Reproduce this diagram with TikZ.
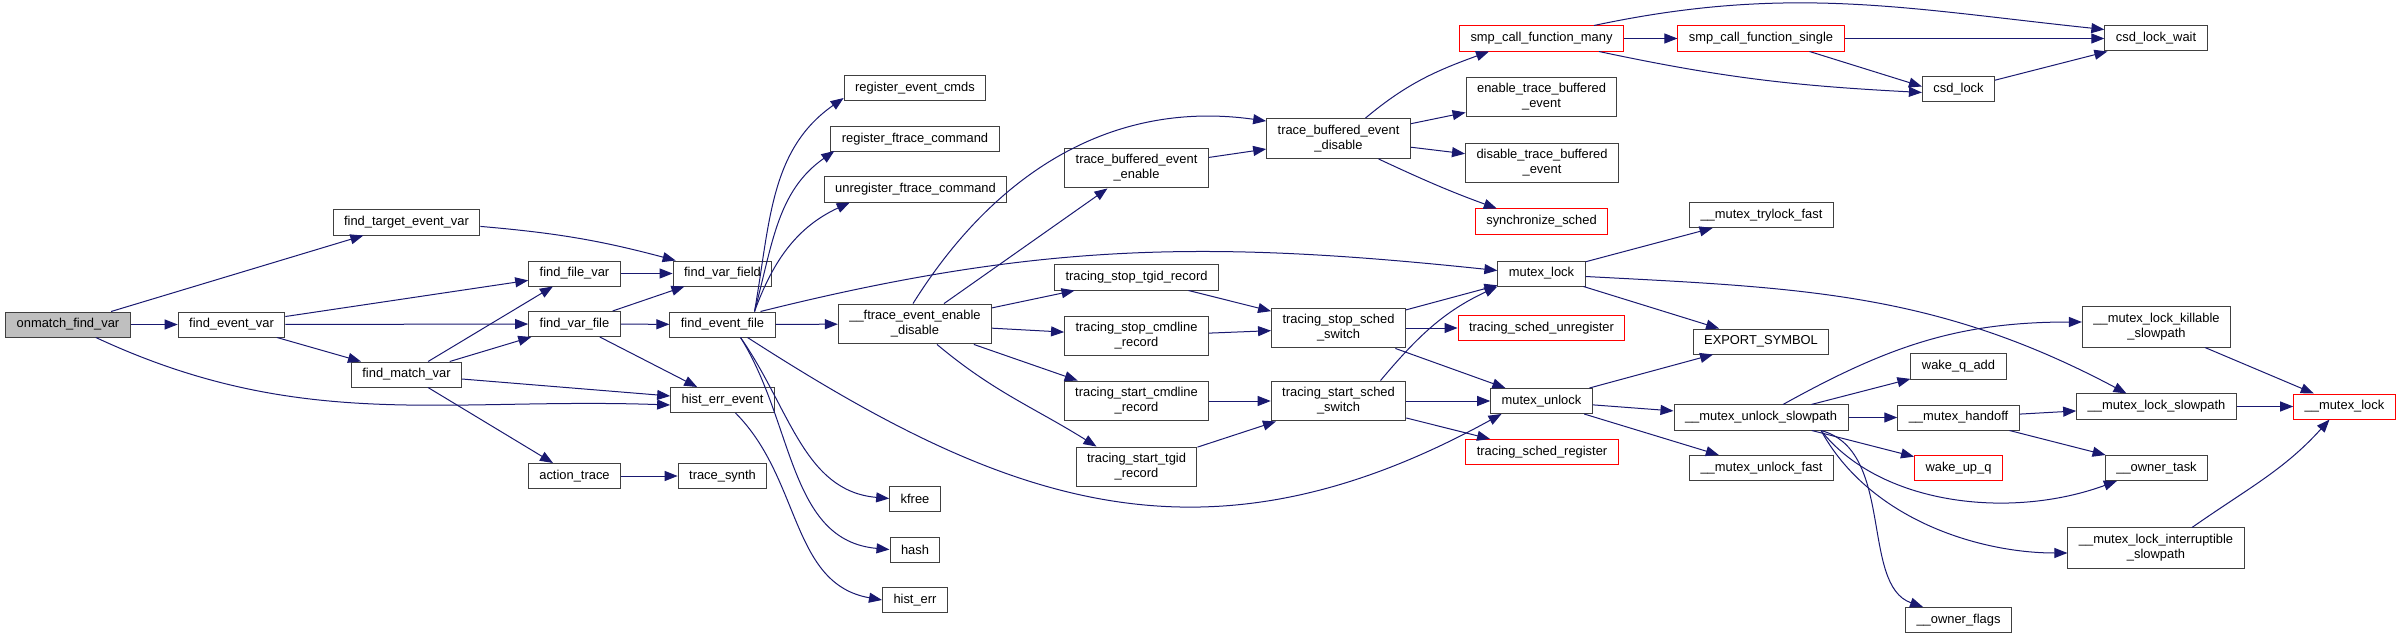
\documentclass[tikz,border=0pt]{standalone}
\usepackage{fontspec}
\setmainfont{Liberation Sans}
\usepackage{tikz}
\usetikzlibrary{arrows.meta,positioning,calc}
\definecolor{edgeblue}{HTML}{191970}
\definecolor{boxline}{HTML}{404040}
\definecolor{rootgray}{HTML}{BFBFBF}

\begin{document}
\begin{tikzpicture}[
    x=1pt, y=1pt,
    fn/.style={draw=boxline, line width=1pt, fill=white, align=center, inner xsep=11pt, inner ysep=6.5pt, minimum height=25pt, font=\fontsize{12.9}{15}\selectfont},
    fnred/.style={fn, draw=red},
    root/.style={fn, fill=rootgray},
    link/.style={draw=edgeblue, line width=1pt},
    >={Triangle[length=13pt,width=10pt]}
]
  \useasboundingbox (0,0) rectangle (2401,-639);

  \node[root] (onmatch) at (68,-324.5) {onmatch\_find\_var};
  \node[fn] (findevvar) at (231.5,-324.5) {find\_event\_var};
  \node[fn] (findtarget) at (406.5,-222.5) {find\_target\_event\_var};
  \node[fn] (findmatch) at (406.5,-374.5) {find\_match\_var};
  \node[fn] (findfile) at (574.5,-273.5) {find\_file\_var};
  \node[fn] (findvarfile) at (574.5,-324) {find\_var\_file};
  \node[fn] (actiontrace) at (574.5,-476) {action\_trace};
  \node[fn] (varfield) at (722.5,-273.5) {find\_var\_field};
  \node[fn] (evfile) at (722.5,-324.5) {find\_event\_file};
  \node[fn] (histev) at (722.5,-400) {hist\_err\_event};
  \node[fn] (tsynth) at (722.5,-476) {trace\_synth};
  \node[fn] (regcmds) at (915,-88) {register\_event\_cmds};
  \node[fn] (regftrace) at (915,-139) {register\_ftrace\_command};
  \node[fn] (unregftrace) at (915.5,-189.5) {unregister\_ftrace\_command};
  \node[fn] (ftraceen) at (915,-324) {\_\_ftrace\_event\_enable\\\_disable};
  \node[fn] (kfree) at (915,-498.5) {kfree};
  \node[fn] (hash) at (915,-549.5) {hash};
  \node[fn] (histerr) at (915,-600) {hist\_err};
  \node[fn] (tbenable) at (1136.5,-168) {trace\_buffered\_event\\\_enable};
  \node[fn] (stoptgid) at (1136.5,-277.5) {tracing\_stop\_tgid\_record};
  \node[fn] (stopcmd) at (1136.5,-336) {tracing\_stop\_cmdline\\\_record};
  \node[fn] (startcmd) at (1136.5,-401) {tracing\_start\_cmdline\\\_record};
  \node[fn] (starttgid) at (1136.5,-467) {tracing\_start\_tgid\\\_record};
  \node[fn] (tbdisable) at (1338.5,-138.5) {trace\_buffered\_event\\\_disable};
  \node[fn] (stopsched) at (1338.5,-328) {tracing\_stop\_sched\\\_switch};
  \node[fn] (startsched) at (1338.5,-401) {tracing\_start\_sched\\\_switch};
  \node[fnred] (smpmany) at (1541.5,-38.5) {smp\_call\_function\_many};
  \node[fn] (entbe) at (1541.5,-97) {enable\_trace\_buffered\\\_event};
  \node[fn] (distbe) at (1542,-163) {disable\_trace\_buffered\\\_event};
  \node[fnred] (syncsched) at (1541.5,-221.5) {synchronize\_sched};
  \node[fn] (mlock) at (1541.5,-273.5) {mutex\_lock};
  \node[fnred] (unreg) at (1541.5,-328) {tracing\_sched\_unregister};
  \node[fn] (munlock) at (1541.5,-401) {mutex\_unlock};
  \node[fnred] (sreg) at (1542,-452) {tracing\_sched\_register};
  \node[fnred] (smpsingle) at (1761,-38.5) {smp\_call\_function\_single};
  \node[fn] (trylock) at (1761.5,-215) {\_\_mutex\_trylock\_fast};
  \node[fn] (export) at (1761,-341.5) {EXPORT\_SYMBOL};
  \node[fn] (uslow) at (1761,-417.5) {\_\_mutex\_unlock\_slowpath};
  \node[fn] (ufast) at (1761.5,-468) {\_\_mutex\_unlock\_fast};
  \node[fn] (csdlock) at (1958.5,-89.5) {csd\_lock};
  \node[fn] (wakeqadd) at (1958.5,-366.5) {wake\_q\_add};
  \node[fn] (handoff) at (1958.5,-417.5) {\_\_mutex\_handoff};
  \node[fnred] (wakeupq) at (1958.5,-468) {wake\_up\_q};
  \node[fn] (oflags) at (1958.5,-620) {\_\_owner\_flags};
  \node[fn] (csdwait) at (2156,-38.5) {csd\_lock\_wait};
  \node[fn] (killable) at (2156.5,-327) {\_\_mutex\_lock\_killable\\\_slowpath};
  \node[fn] (lslow) at (2156.5,-406.5) {\_\_mutex\_lock\_slowpath};
  \node[fn] (otask) at (2156.5,-468) {\_\_owner\_task};
  \node[fn] (interr) at (2156,-548) {\_\_mutex\_lock\_interruptible\\\_slowpath};
  \node[fnred] (mlockint) at (2344.5,-406.5) {\_\_mutex\_lock};

  \draw[->, link] (onmatch) -- (findtarget);
  \draw[->, link] (onmatch) -- (findevvar);
  \draw[->, link] (onmatch) to[out=-25,in=178] ([yshift=-5pt]histev.west);
  \draw[->, link] (findevvar) -- (findfile);
  \draw[->, link] (findevvar) -- (findvarfile);
  \draw[->, link] (findevvar) -- (findmatch);
  \draw[->, link] (findtarget) to[bend left=5] ([xshift=3pt]varfield.north west);
  \draw[->, link] (findmatch) -- (findfile);
  \draw[->, link] (findmatch) -- (findvarfile);
  \draw[->, link] (findmatch) -- ([yshift=4pt]histev.west);
  \draw[->, link] (findmatch) -- (actiontrace);
  \draw[->, link] (findfile) -- (varfield);
  \draw[->, link] (findvarfile) -- (varfield);
  \draw[->, link] (findvarfile) -- (evfile);
  \draw[->, link] (findvarfile) -- (histev);
  \draw[->, link] (actiontrace) -- (tsynth);
  \draw[->, link] (histev) to[out=-45,in=170] (histerr.west);

  \draw[->, link] ([xshift=32pt]evfile.north) to[out=80,in=215] ([yshift=3pt]regcmds.south west);
  \draw[->, link] ([xshift=32pt]evfile.north) to[out=75,in=215] ([xshift=4pt,yshift=1pt]regftrace.south west);
  \draw[->, link] ([xshift=32pt]evfile.north) to[out=70,in=205] ([xshift=26pt]unregftrace.south west);
  \draw[->, link] (evfile) -- (ftraceen);
  \draw[->, link] ([xshift=38pt]evfile.north) to[out=14,in=174] ([yshift=3pt]mlock.west);
  \draw[->, link] ([xshift=18pt]evfile.south) to[out=-55,in=175] (kfree.west);
  \draw[->, link] ([xshift=18pt]evfile.south) to[out=-58,in=175] (hash.west);
  \draw[->, link] ([xshift=25pt]evfile.south) .. controls (1000,-500) and (1200,-580) .. ([xshift=-40pt]munlock.south);

  \draw[->, link] ([xshift=-2pt]ftraceen.north) to[out=58,in=172] ([yshift=-3pt]tbdisable.north west);
  \draw[->, link] (ftraceen) -- (tbenable);
  \draw[->, link] (ftraceen) -- (stoptgid);
  \draw[->, link] (ftraceen) -- (stopcmd);
  \draw[->, link] (ftraceen) -- (startcmd);
  \draw[->, link] ([xshift=22pt]ftraceen.south) to[out=-40,in=148] ([xshift=-40pt]starttgid.north);
  \draw[->, link] (tbenable) -- (tbdisable);

  \draw[->, link] ([xshift=27pt]tbdisable.north) to[out=40,in=200] ([xshift=30pt]smpmany.south west);
  \draw[->, link] (tbdisable) -- (entbe);
  \draw[->, link] (tbdisable) -- (distbe);
  \draw[->, link] ([xshift=40pt]tbdisable.south) to[out=-25,in=160] ([xshift=22pt]syncsched.north west);
  \draw[->, link] (smpmany) -- (smpsingle);
  \draw[->, link] ([xshift=-30pt]smpmany.north east) to[out=12,in=174] ([yshift=-4pt]csdwait.north west);
  \draw[->, link] ([xshift=-25pt]smpmany.south east) to[out=-12,in=177] ([yshift=-3pt]csdlock.west);
  \draw[->, link] (smpsingle) -- (csdwait);
  \draw[->, link] ([xshift=-35pt]smpsingle.south east) -- ([yshift=3pt]csdlock.west);
  \draw[->, link] (csdlock) -- ([xshift=3pt]csdwait.south west);

  \draw[->, link] (stoptgid) -- (stopsched);
  \draw[->, link] (stopcmd) -- (stopsched);
  \draw[->, link] (startcmd) -- (startsched);
  \draw[->, link] (starttgid) -- (startsched);
  \draw[->, link] (stopsched) -- (mlock);
  \draw[->, link] (stopsched) -- (unreg);
  \draw[->, link] (stopsched) -- (munlock);
  \draw[->, link] ([xshift=42pt]startsched.north) to[out=50,in=205] (mlock.south west);
  \draw[->, link] (startsched) -- (munlock);
  \draw[->, link] (startsched) -- (sreg);

  \draw[->, link] (mlock) -- (trylock);
  \draw[->, link] (mlock) -- (export);
  \draw[->, link] ([yshift=-3pt]mlock.east) to[out=-3,in=152] ([xshift=-30pt]lslow.north);
  \draw[->, link] (munlock) -- (export);
  \draw[->, link] (munlock) -- (uslow);
  \draw[->, link] (munlock) -- (ufast);

  \draw[->, link] ([xshift=22pt]uslow.north) .. controls (1890,-345) and (1960,-322) .. ([yshift=5pt]killable.west);
  \draw[->, link] (uslow) -- (wakeqadd);
  \draw[->, link] (uslow) -- (handoff);
  \draw[->, link] (uslow) -- (wakeupq);
  \draw[->, link] ([xshift=60pt]uslow.south) .. controls (1880,-505) and (2010,-520) .. ([xshift=12pt]otask.south west);
  \draw[->, link] ([xshift=60pt]uslow.south) .. controls (1870,-520) and (1980,-553) .. ([yshift=-5pt]interr.west);
  \draw[->, link] ([xshift=60pt]uslow.south) .. controls (1895,-450) and (1860,-585) .. ([xshift=18pt]oflags.north west);
  \draw[->, link] (handoff) -- (lslow);
  \draw[->, link] (handoff) -- (otask);
  \draw[->, link] (killable) -- (mlockint);
  \draw[->, link] (lslow) -- (mlockint);
  \draw[->, link] ([xshift=36pt]interr.north) to[out=35,in=228] ([xshift=-15pt]mlockint.south);
\end{tikzpicture}
\end{document}
